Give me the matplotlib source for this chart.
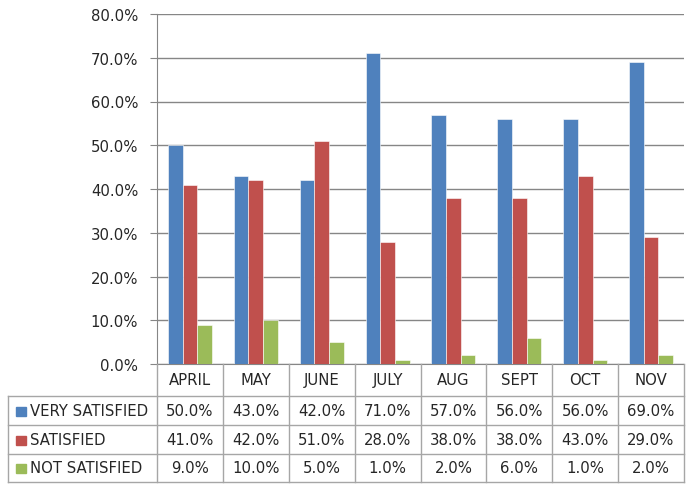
import numpy as np
import matplotlib.pyplot as plt
from matplotlib.lines import Line2D
from matplotlib.patches import Rectangle

months = ["APRIL", "MAY", "JUNE", "JULY", "AUG", "SEPT", "OCT", "NOV"]
very_satisfied = [50.0, 43.0, 42.0, 71.0, 57.0, 56.0, 56.0, 69.0]
satisfied = [41.0, 42.0, 51.0, 28.0, 38.0, 38.0, 43.0, 29.0]
not_satisfied = [9.0, 10.0, 5.0, 1.0, 2.0, 6.0, 1.0, 2.0]
series_names = ["VERY SATISFIED", "SATISFIED", "NOT SATISFIED"]
colors = ["#4F81BD", "#C0504D", "#9BBB59"]

W, H = 694, 485
fs = 10.7
txt_c = "#262626"
fig = plt.figure(figsize=(W / 100, H / 100), dpi=100)
ax = fig.add_axes([157 / W, (H - 365) / H, (684 - 157) / W, 350 / H])

idx = np.arange(len(months))
width = 1 / 4.5
series = [very_satisfied, satisfied, not_satisfied]
for i, (vals, c) in enumerate(zip(series, colors)):
    ax.bar(idx + (i - 1) * width, vals, width, color=c, edgecolor="white", linewidth=0.4, zorder=3)

ax.set_xlim(-0.5, len(months) - 0.5)
ax.set_ylim(0, 80)
ax.set_yticks(np.arange(0, 81, 10))
ax.set_yticklabels(["%.1f%%" % v for v in np.arange(0, 81, 10)], fontsize=fs, color=txt_c)
ax.tick_params(axis="y", length=5, color="#868686", pad=8.5)
ax.set_xticks([])
ax.grid(axis="y", color="#868686", linewidth=1, zorder=0)
for s in ["top", "right"]:
    ax.spines[s].set_visible(False)
ax.spines["left"].set_color("#868686")
ax.spines["bottom"].set_color("#868686")

# data table
def fy(y):
    return 1 - y / H

line_c = "#A6A6A6"
col_x = [157 + (684 - 157) * k / len(months) for k in range(len(months) + 1)]
row_y = [365, 397, 426, 455, 483]
for x in col_x:
    fig.add_artist(Line2D([x / W, x / W], [fy(365), fy(483)], color=line_c, lw=1))
fig.add_artist(Line2D([8 / W, 8 / W], [fy(397), fy(483)], color=line_c, lw=1))
for y in row_y[1:]:
    fig.add_artist(Line2D([8 / W, 684 / W], [fy(y), fy(y)], color=line_c, lw=1))

for k, m in enumerate(months):
    cx = (col_x[k] + col_x[k + 1]) / 2
    fig.text(cx / W, fy((row_y[0] + row_y[1]) / 2), m, ha="center", va="center",
             fontsize=fs, color=txt_c)
    for r, vals in enumerate(series):
        cy = (row_y[r + 1] + row_y[r + 2]) / 2
        fig.text(cx / W, fy(cy), "%.1f%%" % vals[k], ha="center", va="center",
                 fontsize=fs, color=txt_c)

for r, (name, c) in enumerate(zip(series_names, colors)):
    cy = (row_y[r + 1] + row_y[r + 2]) / 2
    fig.add_artist(Rectangle((16 / W, fy(cy + 5)), 10 / W, 9 / H, color=c, transform=fig.transFigure))
    fig.text(30 / W, fy(cy), name, ha="left", va="center", fontsize=fs, color=txt_c)

fig.savefig("out.png", dpi=100)
